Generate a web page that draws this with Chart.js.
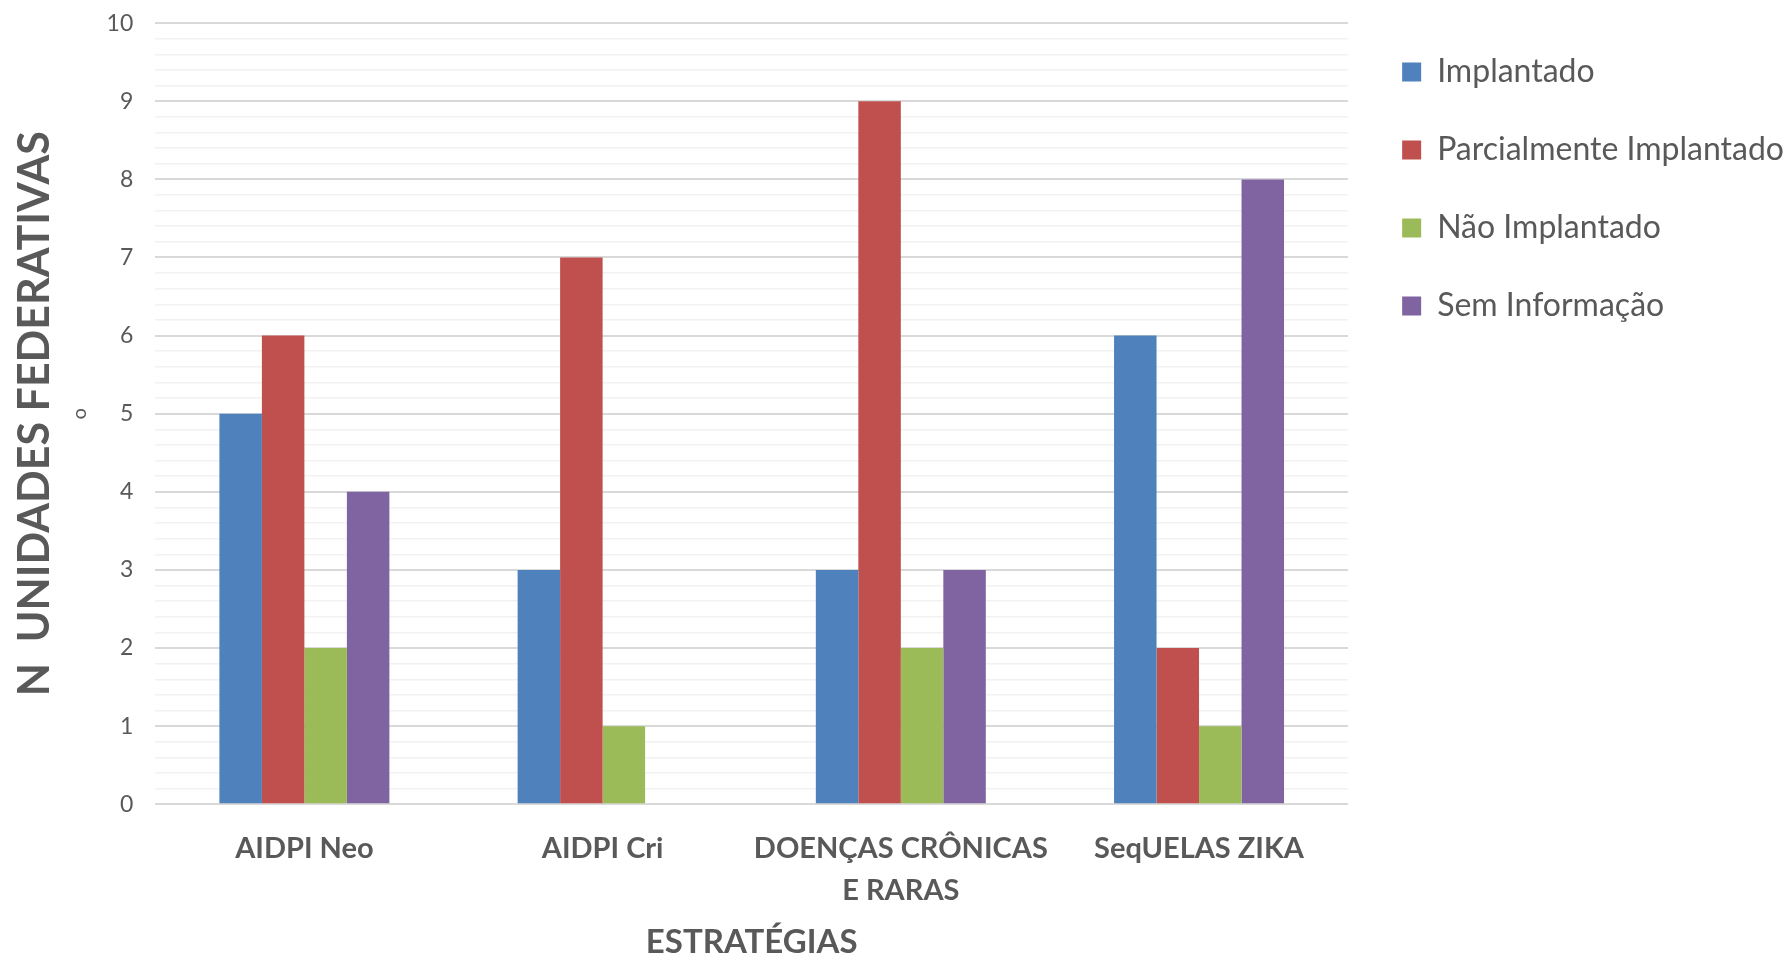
<!DOCTYPE html>
<html>
<head>
<meta charset="utf-8">
<script src="https://cdn.jsdelivr.net/npm/chart.js@4"></script>
<style>
  html, body { margin: 0; padding: 0; background: #fff; }
  canvas { display: block; }
</style>
</head>
<body>
<canvas id="chart" width="1789" height="959"></canvas>
<script>
/* data */
const categories = ["AIDPI Neo", "AIDPI Cri", ["DOENÇAS CRÔNICAS", "E RARAS"], "SeqUELAS ZIKA"];
const seriesNames = ["Implantado", "Parcialmente Implantado", "Não Implantado", "Sem Informação"];
const implantado = [5, 3, 3, 6];
const parcialmente = [6, 7, 9, 2];
const naoImplantado = [2, 1, 2, 1];
const semInformacao = [4, 0, 3, 8];
const yTickLabels = ["0", "1", "2", "3", "4", "5", "6", "7", "8", "9", "10"];

const colors = ["#4F81BD", "#C0504D", "#9BBB59", "#8064A2"];
const textColor = "#595959";

function isMajor(v){
    return Math.abs(v - Math.round(v)) < 1e-6;
}

/* the little "o" next to the y title (Nº) */
const ordinalMark = {
    id: "ordinalMark",
    afterDraw(chart){
        const {ctx, chartArea} = chart;
        ctx.save();
        ctx.translate(80, (chartArea.top + chartArea.bottom) / 2);
        ctx.rotate(-Math.PI / 2);
        ctx.font = "20px Lato";
        ctx.fillStyle = textColor;
        ctx.textAlign = "center";
        ctx.textBaseline = "middle";
        ctx.fillText("o", 0, 0);
        ctx.restore();
    }
};

const allSeries = [implantado, parcialmente, naoImplantado, semInformacao];

new Chart(document.getElementById("chart"), {
    type: "bar",
    data: {
        labels: categories,
        datasets: allSeries.map((vals, i) => ({
            label: seriesNames[i],
            data: vals,
            backgroundColor: colors[i],
            borderWidth: 0,
            categoryPercentage: 0.57,
            barPercentage: 1.0
        }))
    },
    options: {
        responsive: false,
        animation: false,
        layout: { padding: { left: 9, top: 0, right: -5, bottom: 0 } },
        plugins: {
            tooltip: { enabled: false },
            legend: {
                position: "right",
                align: "start",
                maxWidth: 500,
                title: {
                    display: true,
                    text: "",
                    font: { size: 10 },
                    padding: { top: 42, bottom: 0 }
                },
                labels: {
                    boxWidth: 19,
                    boxHeight: 19,
                    padding: 2,
                    color: textColor,
                    font: { family: "Lato", size: 32, lineHeight: 2.375 },
                    // array text -> item height follows the font lineHeight
                    generateLabels: chart => {
                        const items = Chart.defaults.plugins.legend.labels.generateLabels(chart);
                        items.forEach(it => { it.text = [it.text]; it.lineWidth = 0; });
                        return items;
                    }
                }
            }
        },
        scales: {
            x: {
                grid: { display: false },
                border: { display: false },
                ticks: {
                    color: textColor,
                    font: { family: "Lato", size: 29, weight: "bold", lineHeight: 1.45 },
                    padding: 15,
                    maxRotation: 0,
                    autoSkip: false
                },
                title: {
                    display: true,
                    text: "ESTRATÉGIAS",
                    color: textColor,
                    font: { family: "Lato", size: 33, weight: "bold" },
                    padding: { top: -4, bottom: -3 }
                }
            },
            y: {
                min: 0,
                max: 10,
                border: { display: false },
                grid: {
                    drawTicks: false,
                    color: c => isMajor(c.tick.value) ? "#d9d9d9" : "#f2f2f2",
                    lineWidth: c => isMajor(c.tick.value) ? 2 : 1.5
                },
                ticks: {
                    stepSize: 0.2,
                    autoSkip: false,
                    padding: 22,
                    color: textColor,
                    font: { family: "Lato", size: 23, lineHeight: 0.1 },
                    callback: v => isMajor(v) ? yTickLabels[Math.round(v)] : ""
                },
                title: {
                    display: true,
                    text: "N  UNIDADES FEDERATIVAS",
                    color: textColor,
                    font: { family: "Lato", size: 43, weight: "bold" },
                    padding: { top: 0, bottom: 24 }
                }
            },
            gap: {
                position: "right",
                display: true,
                grid: { display: false },
                border: { display: false },
                ticks: { display: false },
                afterFit: s => { s.width = 52; }
            }
        }
    },
    plugins: [ordinalMark]
});
</script>
</body>
</html>
